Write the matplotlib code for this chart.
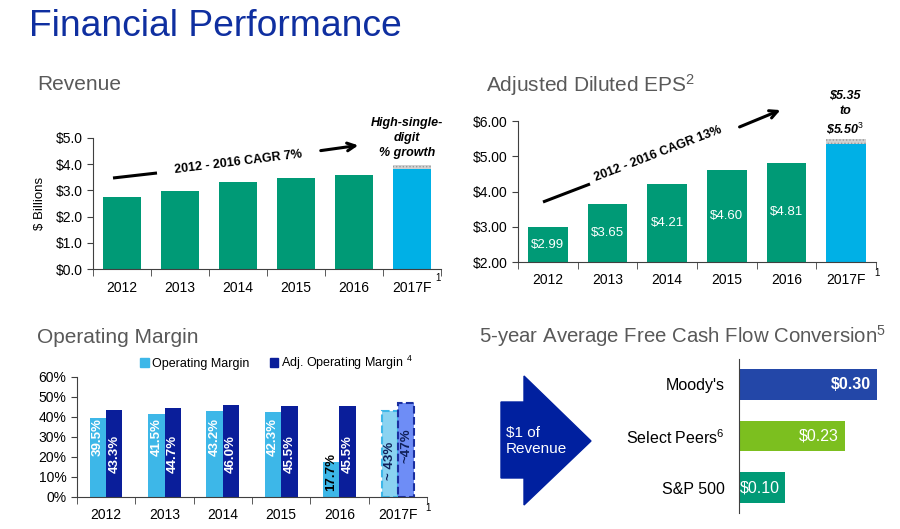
import matplotlib
matplotlib.use("Agg")
import matplotlib.pyplot as plt
import numpy as np
from matplotlib.patches import Patch, Polygon

plt.rcParams['font.family'] = ['Liberation Sans', 'DejaVu Sans']
plt.rcParams['mathtext.fontset'] = 'custom'
plt.rcParams['mathtext.rm'] = 'Liberation Sans'
plt.rcParams['mathtext.it'] = 'Liberation Sans:italic'
plt.rcParams['mathtext.bf'] = 'Liberation Sans:bold'
plt.rcParams['hatch.linewidth'] = 0.6

# ---- data ----
years = ['2012', '2013', '2014', '2015', '2016', '2017F']
revenue = [2.73, 2.97, 3.33, 3.48, 3.60, 3.83]
revenue_high = 3.97
eps = [2.99, 3.65, 4.21, 4.60, 4.81, 5.35]
eps_high = 5.50
op_margin = [39.5, 41.5, 43.2, 42.3, 17.7, 43]
adj_op_margin = [43.3, 44.7, 46.0, 45.5, 45.5, 47]
fcf_names = ["Moody's", "Select Peers$^6$", "S&P 500"]
fcf_values = [0.30, 0.23, 0.10]

W, H = 900, 529
GREEN = '#009A76'
CYAN = '#00B0E6'
LIGHT = '#3DB7E8'
NAVY = '#0A1E9A'
GRAY_T = '#595959'
AX_C = '#404040'

fig = plt.figure(figsize=(9, 5.29), dpi=100)


def rect(l, t, r, b):
    return [l / W, 1 - b / H, (r - l) / W, (b - t) / H]


def style_axes(ax, n, pad=7):
    for s in ['top', 'right']:
        ax.spines[s].set_visible(False)
    for s in ['left', 'bottom']:
        ax.spines[s].set_color(AX_C)
    ax.set_xlim(-0.5, n - 0.5)
    ax.set_xticks(np.arange(n))
    ax.set_xticks(np.arange(-0.5, n), minor=True)
    ax.tick_params(axis='x', which='major', length=0, pad=pad, labelsize=10)
    ax.tick_params(axis='x', which='minor', length=5, color=AX_C)
    ax.tick_params(axis='y', length=4, color=AX_C, labelsize=10)


x = np.arange(len(years))

# ---- Revenue ----
ax1 = fig.add_axes(rect(93, 138, 441, 269))
style_axes(ax1, len(years), pad=9)
ax1.bar(x[:-1], revenue[:-1], width=0.67, color=GREEN)
ax1.bar(x[-1], revenue[-1], width=0.67, color=CYAN)
ax1.bar(x[-1], revenue_high - revenue[-1], bottom=revenue[-1], width=0.67,
        color='#D0D0D0', edgecolor='#9A9A9A', hatch='.....', linewidth=0)
ax1.set_ylim(0, 5)
ax1.set_yticks(np.arange(0, 6))
ax1.set_yticklabels(['${:.1f}'.format(v) for v in range(6)])
ax1.set_xticklabels(years)
ax1.set_ylabel('$ Billions', fontsize=9.5)
ax1.yaxis.set_label_coords(-0.135, 0.5)

# ---- EPS ----
ax2 = fig.add_axes(rect(518, 121, 876, 262))
style_axes(ax2, len(years), pad=8)
ax2.bar(x[:-1], eps[:-1], width=0.67, color=GREEN)
ax2.bar(x[-1], eps[-1], width=0.67, color=CYAN)
ax2.bar(x[-1], eps_high - eps[-1], bottom=eps[-1], width=0.67,
        color='#D0D0D0', edgecolor='#9A9A9A', hatch='.....', linewidth=0)
ax2.set_ylim(2, 6)
ax2.set_yticks(np.arange(2, 7))
ax2.set_yticklabels(['${:.2f}'.format(v) for v in range(2, 7)])
ax2.set_xticklabels(years)
for i, v in enumerate(eps[:-1]):
    ax2.text(i, (2 + v) / 2, '${:.2f}'.format(v), ha='center', va='center',
             color='white', fontsize=9.5)

# ---- Operating margin ----
ax3 = fig.add_axes(rect(77, 377, 427, 497))
style_axes(ax3, len(years), pad=8)
bw = 0.28
ax3.bar(x[:-1] - bw / 2, op_margin[:-1], width=bw, color=LIGHT)
ax3.bar(x[:-1] + bw / 2, adj_op_margin[:-1], width=bw, color=NAVY)
ax3.bar(x[-1] - bw / 2, op_margin[-1], width=bw, color='#8AD3F1',
        edgecolor=LIGHT, linestyle='--', linewidth=1.5)
ax3.bar(x[-1] + bw / 2, adj_op_margin[-1], width=bw, color='#6E8DF6',
        edgecolor='#1A2FA0', linestyle='--', linewidth=1.5)
ax3.set_ylim(0, 60)
ax3.set_yticks(np.arange(0, 70, 10))
ax3.set_yticklabels(['{}%'.format(v) for v in range(0, 70, 10)])
ax3.set_xticklabels(years)
for i in range(len(years) - 1):
    ly = 12.5 if op_margin[i] < 25 else 30
    lc = 'black' if op_margin[i] < 25 else 'white'
    ax3.text(i - bw / 2, ly, '{:.1f}%'.format(op_margin[i]), rotation=90,
             ha='center', va='center', color=lc, fontsize=9.5, fontweight='bold')
    ax3.text(i + bw / 2, 21.5, '{:.1f}%'.format(adj_op_margin[i]), rotation=90,
             ha='center', va='center', color='white', fontsize=9.5, fontweight='bold')
ax3.text(x[-1] - bw / 2, 18, '~ {}%'.format(op_margin[-1]), rotation=90,
         ha='center', va='center', color='#10205A', fontsize=9.5, fontweight='bold')
ax3.text(x[-1] + bw / 2, 25.5, '~{}%'.format(adj_op_margin[-1]), rotation=90,
         ha='center', va='center', color='#10205A', fontsize=9.5, fontweight='bold')
handles = [Patch(color=LIGHT, label='Operating Margin'),
           Patch(color=NAVY, label='Adj. Operating Margin $^4$')]
fig.legend(handles=handles, loc='center left', bbox_to_anchor=(134 / W, 1 - 363 / H),
           ncol=2, frameon=False, fontsize=9, handlelength=0.7, handleheight=0.7,
           handletextpad=0.25, columnspacing=1.6, borderpad=0)

# ---- FCF conversion ----
ax4 = fig.add_axes(rect(739, 359, 877, 513))
ypos = np.arange(len(fcf_values))
fcf_colors = ['#2347A8', '#7CBF1F', GREEN]
ax4.barh(ypos, fcf_values, height=0.59, color=fcf_colors)
ax4.set_xlim(0, 0.30)
ax4.set_ylim(2.49, -0.49)
for s in ['top', 'right', 'bottom']:
    ax4.spines[s].set_visible(False)
ax4.spines['left'].set_color(AX_C)
ax4.set_xticks([])
ax4.set_yticks(ypos)
ax4.set_yticklabels(fcf_names, fontsize=11.5)
ax4.tick_params(axis='y', length=0, pad=10)
for i, v in enumerate(fcf_values):
    ax4.annotate('${:.2f}'.format(v), (v, i), xytext=(-4, 0), textcoords='offset points',
                 ha='right', va='center', color='white', fontsize=11.5,
                 fontweight='bold' if i == 0 else 'normal')

# ---- overlay: titles, arrows, notes (pixel coords) ----
ov = fig.add_axes([0, 0, 1, 1])
ov.set_xlim(0, W)
ov.set_ylim(H, 0)
ov.axis('off')
ov.patch.set_alpha(0)

ov.text(29, 36, 'Financial Performance', fontsize=26.8, color='#0F2FA0', va='baseline')
ov.text(37, 90, 'Revenue', fontsize=15, color=GRAY_T, va='baseline')
ov.text(486, 92, 'Adjusted Diluted EPS$^2$', fontsize=15, color=GRAY_T, va='baseline')
ov.text(37, 343, 'Operating Margin', fontsize=15, color=GRAY_T, va='baseline')
ov.text(479, 343, '5-year Average Free Cash Flow Conversion$^5$', fontsize=14.7,
        color=GRAY_T, va='baseline')

# footnote marks next to 2017F
ov.text(435, 278, '1', fontsize=7, va='center')
ov.text(874, 273, '1', fontsize=7, va='center')
ov.text(425, 508, '1', fontsize=7, va='center')

# revenue CAGR
ov.plot([113, 157], [178, 173], color='black', lw=2.2, solid_capstyle='butt')
ov.annotate('', xy=(361, 145), xytext=(318, 151),
            arrowprops=dict(arrowstyle='->', lw=2.2, color='black', mutation_scale=14))
ov.text(238, 162, '2012 - 2016 CAGR 7%', rotation=7, ha='center', va='center',
        fontsize=9, fontweight='bold')
ov.text(407, 138, 'High-single-\ndigit\n% growth', ha='center', va='center',
        fontsize=9, fontweight='bold', style='italic', linespacing=1.35)

# eps CAGR
ov.plot([543, 590], [202, 184], color='black', lw=2.2, solid_capstyle='butt')
ov.annotate('', xy=(783, 109), xytext=(737, 128),
            arrowprops=dict(arrowstyle='->', lw=2.2, color='black', mutation_scale=14))
ov.text(658, 154, '2012 - 2016 CAGR 13%', rotation=21, ha='center', va='center',
        fontsize=9, fontweight='bold')
ov.text(845, 113, r'\$5.35' + '\nto\n' + r'\$5.50$^3$', ha='center', va='center',
        fontsize=9, fontweight='bold', style='italic', linespacing=1.35)

# big arrow
arrow_pts = [(501, 402), (524, 402), (524, 376), (591, 441),
             (524, 505), (524, 478), (501, 478)]
ov.add_patch(Polygon(arrow_pts, closed=True, color='#00209F'))
ov.text(506, 441, '$1 of\nRevenue', color='white', fontsize=11, va='center',
        ha='left', linespacing=1.1)

fig.savefig('out.png', dpi=100)
